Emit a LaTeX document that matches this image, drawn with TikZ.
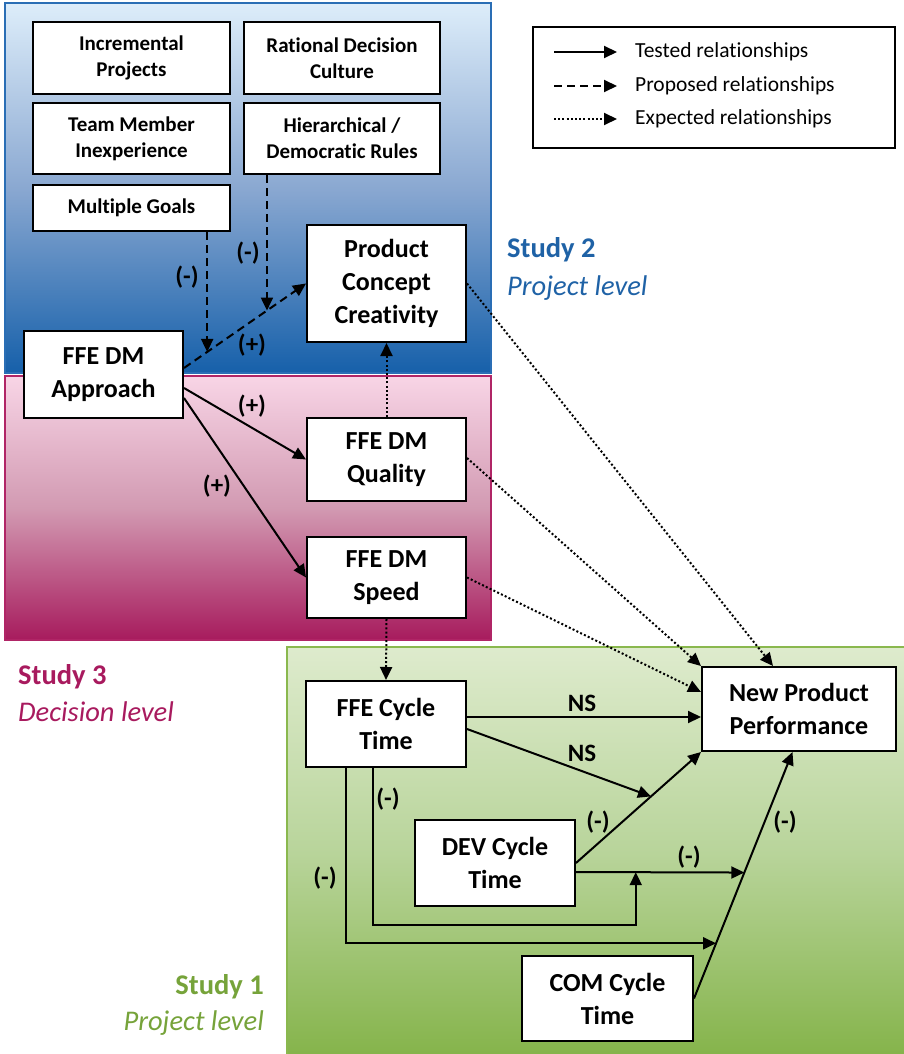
\documentclass[tikz,border=0pt]{standalone}
\usepackage{fontspec}
\setmainfont{Carlito}[Ligatures={CommonOff}]
\usetikzlibrary{arrows.meta,calc}
\definecolor{bluetop}{HTML}{DDEDFA}
\definecolor{bluemid}{HTML}{8AA8D1}
\definecolor{bluebot}{HTML}{1660AA}
\definecolor{blueline}{HTML}{2A6EB5}
\definecolor{pinktop}{HTML}{F8D5E6}
\definecolor{pinkmid}{HTML}{D29AB2}
\definecolor{pinkbot}{HTML}{A71B5D}
\definecolor{pinkline}{HTML}{B02566}
\definecolor{greentop}{HTML}{DEEBCD}
\definecolor{greenmid}{HTML}{B8D49A}
\definecolor{greenbot}{HTML}{84B349}
\definecolor{greenline}{HTML}{8AB84E}
\definecolor{s2col}{HTML}{1F62A6}
\definecolor{s3col}{HTML}{A81A5E}
\definecolor{s1col}{HTML}{76A33A}
\begin{document}
\begin{tikzpicture}[x=1pt,y=-1pt,
  smallbox/.style={draw, line width=2pt, fill=white, align=center, inner sep=0pt,
    font=\fontsize{21}{26}\selectfont\bfseries},
  bigbox/.style={draw, line width=2pt, fill=white, align=center, inner sep=0pt,
    font=\fontsize{26}{33}\selectfont\bfseries},
  tip/.style={-{Triangle[length=13pt,width=12pt]}},
  tested/.style={tip, line width=2pt},
  proposed/.style={tip, line width=2pt, dash pattern=on 8pt off 5pt},
  expected/.style={tip, line width=2pt, dash pattern=on 2pt off 2.2pt},
  lbl/.style={font=\fontsize{25}{29}\selectfont\bfseries, inner sep=0pt},
  legtext/.style={font=\fontsize{21.5}{25}\selectfont, anchor=west, inner sep=0pt},
  studyb/.style={font=\fontsize{28.5}{33}\selectfont\bfseries, inner sep=0pt},
  studyi/.style={font=\fontsize{28.5}{33}\selectfont\itshape, inner sep=0pt}
]
\useasboundingbox (0,0) rectangle (903,1054);

% regions
\fill[top color=bluetop, bottom color=bluebot, middle color=bluemid] (5,3) rectangle (491,373);
\draw[blueline, line width=1.6pt] (5,3) rectangle (491,373);
\fill[top color=pinktop, bottom color=pinkbot, middle color=pinkmid] (5,376) rectangle (491,640);
\draw[pinkline, line width=1.6pt] (5,376) rectangle (491,640);
\fill[top color=greentop, bottom color=greenbot, middle color=greenmid] (287,647) rectangle (910,1060);
\draw[greenline, line width=1.6pt] (287,647) rectangle (910,1060);

% study labels
\node[studyb, s2col, anchor=west] (s2a) at (507,250) {Study 2};
\node[studyi, s2col, anchor=west] (s2b) at (507,288) {Project level};
\node[studyb, s3col, anchor=west] (s3a) at (18,677) {Study 3};
\node[studyi, s3col, anchor=west] (s3b) at (18,712) {Decision level};
\node[studyb, s1col, anchor=east] (s1a) at (264,987) {Study 1};
\node[studyi, s1col, anchor=east] (s1b) at (264,1023) {Project level};

% legend
\node[draw, line width=1.5pt, minimum width=362pt, minimum height=121pt, inner sep=0pt] (legend) at (714,87.5) {};
\coordinate (l1a) at (554,52); \coordinate (l1b) at (617,52);
\coordinate (l2a) at (554,86); \coordinate (l2b) at (617,86);
\coordinate (l3a) at (554,119); \coordinate (l3b) at (617,119);
\draw[tested] (l1a) -- (l1b);
\draw[proposed] (l2a) -- (l2b);
\draw[expected] (l3a) -- (l3b);
\node[legtext] (lt1) at (635,52) {Tested relationships};
\node[legtext] (lt2) at (635,86) {Proposed relationships};
\node[legtext] (lt3) at (635,119) {Expected relationships};

% boxes
\node[smallbox, minimum width=197pt, minimum height=72pt] (inc) at (131.5,58) {Incremental\\Projects};
\node[smallbox, minimum width=196pt, minimum height=72pt] (rat) at (342,58) {Rational Decision\\Culture};
\node[smallbox, minimum width=197pt, minimum height=71pt] (team) at (131.5,138.5) {Team Member\\Inexperience};
\node[smallbox, minimum width=196pt, minimum height=71pt] (hier) at (342,138.5) {Hierarchical /\\Democratic Rules};
\node[smallbox, minimum width=197pt, minimum height=46pt] (mult) at (131.5,208) {Multiple Goals};
\node[bigbox, minimum width=159pt, minimum height=117pt] (pcc) at (386.5,283.5) {Product\\Concept\\Creativity};
\node[bigbox, minimum width=159pt, minimum height=87pt] (app) at (103.5,374.5) {FFE DM\\Approach};
\node[bigbox, minimum width=159pt, minimum height=83pt] (qual) at (386.5,459.5) {FFE DM\\Quality};
\node[bigbox, minimum width=159pt, minimum height=81pt] (speed) at (386.5,577.5) {FFE DM\\Speed};
\node[bigbox, minimum width=160pt, minimum height=86pt] (ffe) at (386,724) {FFE Cycle\\Time};
\node[bigbox, minimum width=194pt, minimum height=84pt] (npp) at (799,709) {New Product\\Performance};
\node[bigbox, minimum width=160pt, minimum height=86pt] (dev) at (495,863) {DEV Cycle\\Time};
\node[bigbox, minimum width=171pt, minimum height=85pt] (com) at (607.5,998.5) {COM Cycle\\Time};

% proposed (dashed)
\draw[proposed] ([yshift=6.5pt]app.east) -- (pcc.west);
\path ([yshift=6.5pt]app.east) -- (pcc.west) coordinate[pos=0.19] (d1) coordinate[pos=0.68] (d2);
\draw[proposed] (mult.south -| d1) -- (d1);
\draw[proposed] (hier.south -| d2) -- (d2);
\node[lbl] (lp1) at (252,345) {(+)};
\node[lbl] (lm1) at (187,277) {(-)};
\node[lbl] (lm2) at (248,253) {(-)};

% tested in study 3
\draw[tested] ([yshift=-13.5pt]app.east) -- (qual.west);
\draw[tested] ([yshift=-23.5pt]app.east) -- (speed.west);
\node[lbl] (lp2) at (252,406) {(+)};
\node[lbl] (lp3) at (217,486) {(+)};

% expected (dotted)
\draw[expected] (qual.north) -- (pcc.south);
\draw[expected] (speed.south) -- (ffe.north);
\draw[expected] (pcc.east) -- ([xshift=-26pt]npp.north);
\draw[expected] ([yshift=1.5pt]qual.east) -- (npp.north west);
\draw[expected] (speed.east) -- ([yshift=17pt]npp.west);

% study 1 tested
\draw[tested] ([yshift=7pt]ffe.east) -- ([yshift=7pt]ffe.east -| npp.west);
\node[lbl] (ns1) at (582,703) {NS};
\path (dev.east) -- (npp.south west) coordinate[pos=0.6] (m1);
\draw[tested] (dev.east) -- (npp.south west);
\draw[tested] ([yshift=-5pt]ffe.east) -- (m1);
\node[lbl] (ns2) at (582,753) {NS};
\node[lbl] (lm3) at (598,822) {(-)};
\path (com.east) -- ([xshift=-6.5pt]npp.south) coordinate[pos=0.511] (m2) coordinate[pos=0.224] (m4);
\draw[tested] (com.east) -- ([xshift=-6.5pt]npp.south);
\node[lbl] (lm4) at (785,822) {(-)};
\draw[tested] ([yshift=-9pt]dev.east) -- (m2);
\node[lbl] (lm5) at (689,857) {(-)};
\path ([yshift=-9pt]dev.east) -- (m2) coordinate[pos=0.355] (m3);
\draw[tested] ([xshift=-13.5pt]ffe.south) -- ++(0,157) -| (m3);
\node[lbl] (lm6) at (388,799) {(-)};
\draw[tested] ([xshift=-40pt]ffe.south) |- (m4);
\node[lbl] (lm7) at (325,878) {(-)};
\end{tikzpicture}
\end{document}
